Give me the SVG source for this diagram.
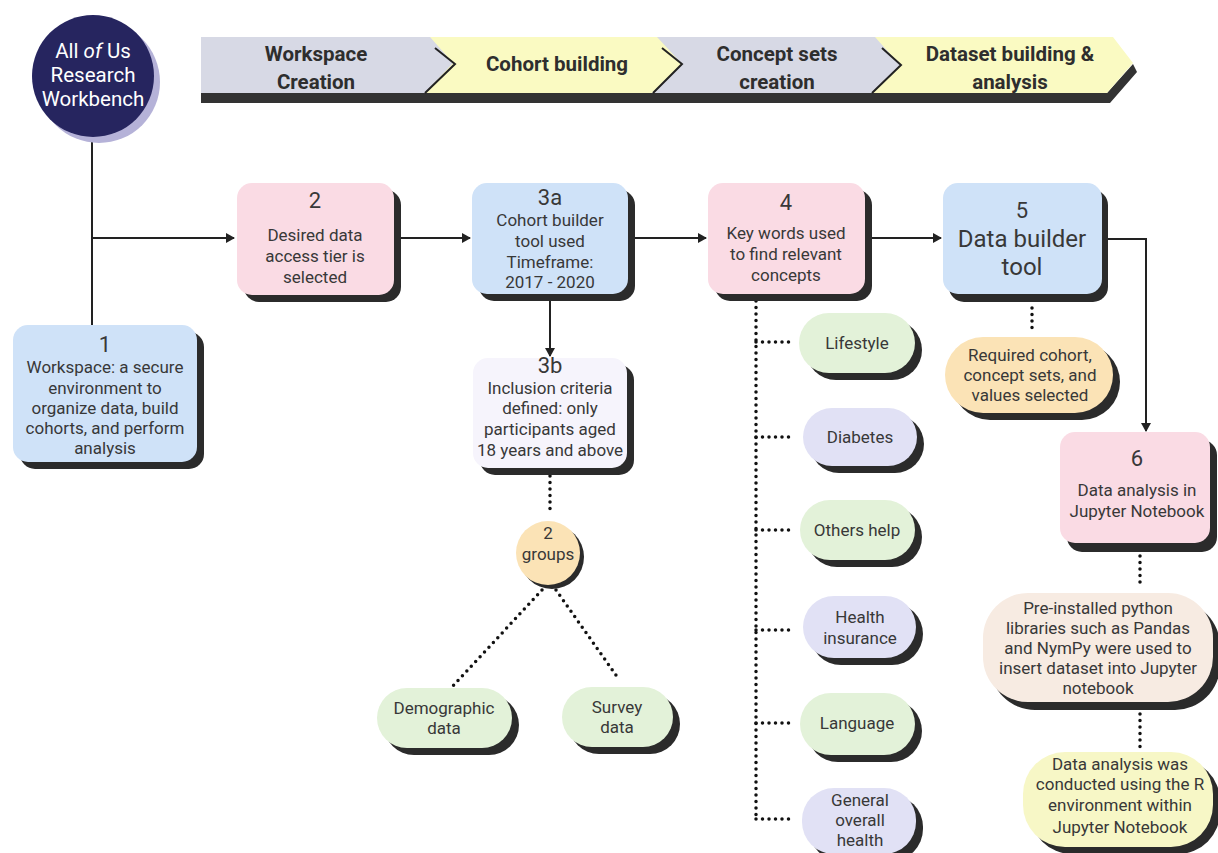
<svg xmlns="http://www.w3.org/2000/svg" width="1218" height="853" viewBox="0 0 1218 853">
<defs>
<style>
text{font-family:Roboto,"Liberation Sans",sans-serif;fill:#383838;text-anchor:middle;dominant-baseline:central}
.t{font-size:17px}
.n{font-size:22px}
.bn{font-size:20.5px;font-weight:700;fill:#2e2e2e}
.sh{fill:#2b2b2b}
.blue{fill:#cfe2f8}
.pink{fill:#fadbe4}
.lav{fill:#e1e1f5}
.grn{fill:#e3f2d9}
.peach{fill:#fbe3b6}
.line{stroke:#222;stroke-width:2;fill:none}
.dot{stroke:#111;stroke-width:3.5;fill:none;stroke-linecap:round;stroke-dasharray:0 6.5}
</style>
<marker id="ah" markerWidth="10" markerHeight="10" refX="8" refY="5" orient="auto" markerUnits="userSpaceOnUse">
<path d="M0,0 L9,5 L0,10 z" fill="#222"/>
</marker>
</defs>
<rect width="1218" height="853" fill="#fff"/>

<g id="banner">
<polygon points="201,93 1107,93 1133,64 1137,72 1110,103 201,103" fill="#333"/>
<rect x="201" y="37" width="906" height="56" fill="#d7d9e5"/>
<polygon points="430,37 657,37 682,64 652,93 425,93 453,63" fill="#fafac2"/>
<polygon points="875,37 1113,37 1133,63 1107,93 872,93 900,65" fill="#fafac2"/>
<polyline points="435,48 455,64 425,93" stroke="#222" stroke-width="2" fill="none"/>
<polyline points="662,48 682,64 653,93" stroke="#222" stroke-width="2" fill="none"/>
<polyline points="882,48 901,65 872,93" stroke="#222" stroke-width="2" fill="none"/>
<text class="bn" x="316" y="54">Workspace</text>
<text class="bn" x="316" y="82">Creation</text>
<text class="bn" x="557" y="64">Cohort building</text>
<text class="bn" x="777" y="54">Concept sets</text>
<text class="bn" x="777" y="82">creation</text>
<text class="bn" x="1010" y="54">Dataset building &amp;</text>
<text class="bn" x="1010" y="82">analysis</text>
</g>

<g id="connectors">
<line class="line" x1="92" y1="137" x2="92" y2="325"/>
<line class="line" x1="92" y1="238" x2="234" y2="238" marker-end="url(#ah)"/>
<line class="line" x1="393" y1="238" x2="470" y2="238" marker-end="url(#ah)"/>
<line class="line" x1="628" y1="238" x2="706" y2="238" marker-end="url(#ah)"/>
<line class="line" x1="865" y1="238" x2="941" y2="238" marker-end="url(#ah)"/>
<polyline class="line" points="1102,239 1146,239 1146,431" marker-end="url(#ah)"/>
<line class="line" x1="550" y1="294" x2="550" y2="356" marker-end="url(#ah)"/>
<line class="dot" x1="550" y1="476" x2="550" y2="509"/>
<line class="dot" x1="542" y1="590" x2="452" y2="687"/>
<line class="dot" x1="556" y1="590" x2="618" y2="678"/>
<line class="dot" x1="756" y1="301" x2="756" y2="819"/>
<line class="dot" x1="756" y1="342" x2="794" y2="342"/>
<line class="dot" x1="756" y1="437" x2="794" y2="437"/>
<line class="dot" x1="756" y1="530" x2="794" y2="530"/>
<line class="dot" x1="756" y1="630" x2="794" y2="630"/>
<line class="dot" x1="756" y1="723" x2="794" y2="723"/>
<line class="dot" x1="756" y1="819" x2="794" y2="819"/>
<line class="dot" x1="1032" y1="308" x2="1032" y2="332"/>
<line class="dot" x1="1140" y1="556" x2="1140" y2="588"/>
<line class="dot" x1="1140" y1="714" x2="1140" y2="747"/>
</g>

<g id="workbench">
<circle cx="99" cy="82" r="61" fill="#b5b2d8"/>
<circle cx="93" cy="76" r="61" fill="#26255f"/>
<text x="93" y="51" style="font-size:20.5px;fill:#fff">All <tspan font-style="italic">of</tspan> Us</text>
<text x="93" y="75" style="font-size:20.5px;fill:#fff">Research</text>
<text x="93" y="99" style="font-size:20.5px;fill:#fff">Workbench</text>
</g>

<g id="n1">
<rect class="sh" x="20" y="332" width="184" height="137" rx="15"/>
<rect class="blue" x="13" y="325" width="184" height="137" rx="15"/>
<text class="n" x="105" y="344">1</text>
<text class="t" x="105" y="367">Workspace: a secure</text>
<text class="t" x="105" y="388">environment to</text>
<text class="t" x="105" y="408">organize data, build</text>
<text class="t" x="105" y="428">cohorts, and perform</text>
<text class="t" x="105" y="448">analysis</text>
</g>

<g id="n2">
<rect class="sh" x="244" y="190" width="157" height="112" rx="15"/>
<rect class="pink" x="237" y="183" width="157" height="112" rx="15"/>
<text class="n" x="315" y="200">2</text>
<text class="t" x="315" y="235">Desired data</text>
<text class="t" x="315" y="256">access tier is</text>
<text class="t" x="315" y="277">selected</text>
</g>

<g id="n3a">
<rect class="sh" x="479" y="190" width="156" height="111" rx="15"/>
<rect class="blue" x="472" y="183" width="156" height="111" rx="15"/>
<text class="n" x="550" y="197">3a</text>
<text class="t" x="550" y="220">Cohort builder</text>
<text class="t" x="550" y="241">tool used</text>
<text class="t" x="550" y="262">Timeframe:</text>
<text class="t" x="550" y="282">2017 - 2020</text>
</g>

<g id="n3b">
<rect class="sh" x="480" y="365" width="154" height="110" rx="15"/>
<rect fill="#f6f4fc" x="473" y="358" width="154" height="110" rx="15"/>
<text class="n" x="550" y="365">3b</text>
<text class="t" x="550" y="388">Inclusion criteria</text>
<text class="t" x="550" y="408">defined: only</text>
<text class="t" x="550" y="429">participants aged</text>
<text class="t" x="550" y="450">18 years and above</text>
</g>

<g id="groups">
<circle class="sh" cx="552" cy="557" r="32"/>
<circle class="peach" cx="548" cy="553" r="32"/>
<text class="t" x="548" y="533">2</text>
<text class="t" x="548" y="554">groups</text>
</g>

<g id="demographic">
<rect class="sh" x="384" y="695" width="135" height="60" rx="30"/>
<rect class="grn" x="377" y="688" width="135" height="60" rx="30"/>
<text class="t" x="444" y="708">Demographic</text>
<text class="t" x="444" y="728">data</text>
</g>

<g id="survey">
<rect class="sh" x="569" y="694" width="111" height="60" rx="30"/>
<rect class="grn" x="562" y="687" width="111" height="60" rx="30"/>
<text class="t" x="617" y="707">Survey</text>
<text class="t" x="617" y="727">data</text>
</g>

<g id="n4">
<rect class="sh" x="715" y="190" width="157" height="111" rx="15"/>
<rect class="pink" x="708" y="183" width="157" height="111" rx="15"/>
<text class="n" x="786" y="202">4</text>
<text class="t" x="786" y="233">Key words used</text>
<text class="t" x="786" y="254">to find relevant</text>
<text class="t" x="786" y="275">concepts</text>
</g>

<g id="lifestyle">
<rect class="sh" x="806" y="320" width="116" height="60" rx="30"/>
<rect class="grn" x="799" y="313" width="116" height="60" rx="30"/>
<text class="t" x="857" y="343">Lifestyle</text>
</g>
<g id="diabetes">
<rect class="sh" x="810" y="415" width="114" height="58" rx="29"/>
<rect class="lav" x="803" y="408" width="114" height="58" rx="29"/>
<text class="t" x="860" y="437">Diabetes</text>
</g>
<g id="others">
<rect class="sh" x="807" y="507" width="115" height="60" rx="30"/>
<rect class="grn" x="800" y="500" width="115" height="60" rx="30"/>
<text class="t" x="857" y="530">Others help</text>
</g>
<g id="insurance">
<rect class="sh" x="810" y="603" width="113" height="62" rx="31"/>
<rect class="lav" x="803" y="596" width="113" height="62" rx="31"/>
<text class="t" x="860" y="617">Health</text>
<text class="t" x="860" y="638">insurance</text>
</g>
<g id="language">
<rect class="sh" x="807" y="700" width="115" height="62" rx="31"/>
<rect class="grn" x="800" y="693" width="115" height="62" rx="31"/>
<text class="t" x="857" y="723">Language</text>
</g>
<g id="general">
<rect class="sh" x="809" y="795" width="114" height="66" rx="32"/>
<rect class="lav" x="802" y="788" width="114" height="66" rx="32"/>
<text class="t" x="860" y="800">General</text>
<text class="t" x="860" y="820">overall</text>
<text class="t" x="860" y="840">health</text>
</g>

<g id="n5">
<rect class="sh" x="949" y="190" width="159" height="112" rx="15"/>
<rect class="blue" x="943" y="183" width="159" height="111" rx="15"/>
<text class="n" x="1022" y="210">5</text>
<text x="1022" y="239" style="font-size:24px">Data builder</text>
<text x="1022" y="267" style="font-size:24px">tool</text>
</g>

<g id="required">
<rect class="sh" x="952" y="344" width="168" height="76" rx="38"/>
<rect class="peach" x="945" y="337" width="168" height="76" rx="38"/>
<text class="t" x="1030" y="355">Required cohort,</text>
<text class="t" x="1030" y="375">concept sets, and</text>
<text class="t" x="1030" y="395">values selected</text>
</g>

<g id="n6">
<rect class="sh" x="1067" y="440" width="150" height="112" rx="15"/>
<rect class="pink" x="1060" y="432" width="150" height="111" rx="15"/>
<text class="n" x="1137" y="458">6</text>
<text class="t" x="1137" y="490">Data analysis in</text>
<text class="t" x="1137" y="511">Jupyter Notebook</text>
</g>

<g id="preinstalled">
<rect class="sh" x="990" y="601" width="230" height="109" rx="45"/>
<rect fill="#f7ebe2" x="983" y="593" width="230" height="109" rx="45"/>
<text class="t" x="1098" y="608">Pre-installed python</text>
<text class="t" x="1098" y="628">libraries such as Pandas</text>
<text class="t" x="1098" y="648">and NymPy were used to</text>
<text class="t" x="1098" y="668">insert dataset into Jupyter</text>
<text class="t" x="1098" y="688">notebook</text>
</g>

<g id="ranalysis">
<rect class="sh" x="1030" y="759" width="190" height="95" rx="42"/>
<rect fill="#f7f7c6" x="1023" y="752" width="190" height="95" rx="42"/>
<text class="t" x="1120" y="764">Data analysis was</text>
<text class="t" x="1120" y="784">conducted using the R</text>
<text class="t" x="1120" y="805">environment within</text>
<text class="t" x="1120" y="827">Jupyter Notebook</text>
</g>
</svg>
